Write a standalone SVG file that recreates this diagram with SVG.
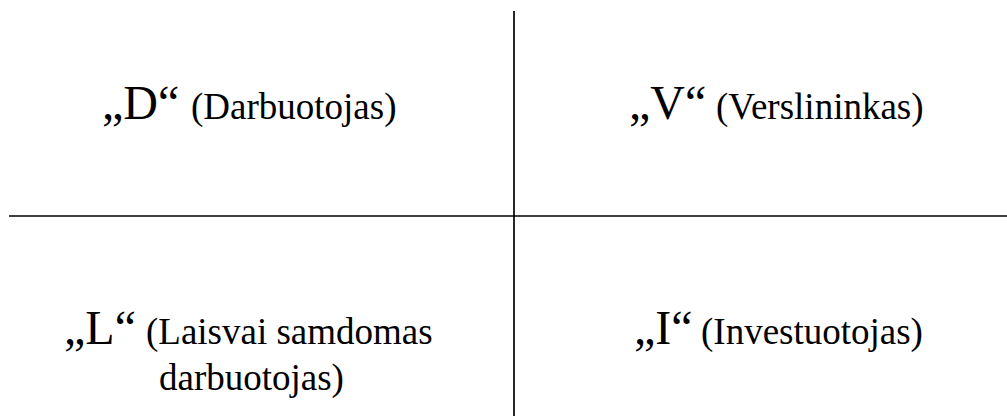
<svg xmlns="http://www.w3.org/2000/svg" width="1007" height="416" viewBox="0 0 1007 416">
<style>
text,tspan{font-family:'Liberation Serif','Times New Roman',Times,serif;fill:#000}
.big{font-size:48px}
.small{font-size:37px}
.ln{stroke:#000;stroke-width:1.7;fill:none}
</style>
<rect width="1007" height="416" fill="#fff"/>
<g id="connectors">
<line class="ln" x1="514" y1="11" x2="514" y2="416"/>
<line class="ln" x1="9" y1="216" x2="1007" y2="216"/>
</g>
<g id="node-D">
<text y="119"><tspan class="big" x="102">„D“</tspan><tspan class="small" x="191">(Darbuotojas)</tspan></text>
</g>
<g id="node-V">
<text y="119"><tspan class="big" x="629">„V“</tspan><tspan class="small" x="716">(Verslininkas)</tspan></text>
</g>
<g id="node-L">
<text y="344"><tspan class="big" x="64">„L“</tspan><tspan class="small" x="146">(Laisvai samdomas</tspan></text>
<text class="small" x="159" y="390">darbuotojas)</text>
</g>
<g id="node-I">
<text y="344"><tspan class="big" x="634">„I“</tspan><tspan class="small" x="701">(Investuotojas)</tspan></text>
</g>
</svg>
